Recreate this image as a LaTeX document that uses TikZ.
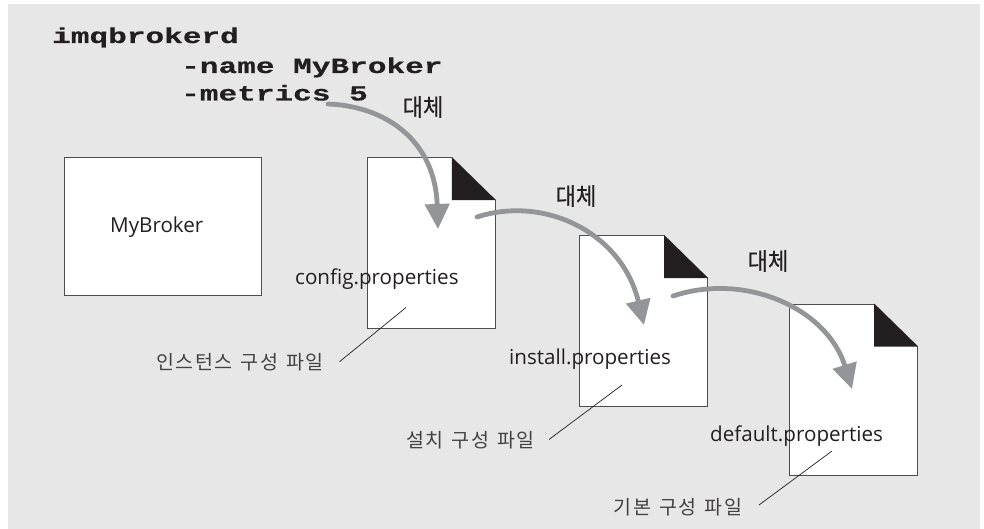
\documentclass[tikz,border=0pt]{standalone}
\usepackage{fontspec}
\usetikzlibrary{arrows.meta}
\setmainfont{Open Sans}
\newfontfamily\codefont[FakeStretch=1.44,FakeBold=0.5]{Liberation Mono Bold}
\newfontfamily\krfont[LetterSpace=8,WordSpace=1.35]{Noto Sans CJK KR}
\newfontfamily\krbold[FakeStretch=0.92,FakeBold=0.4]{Noto Sans CJK KR}
\definecolor{panel}{HTML}{E7E7E7}
\definecolor{arrowgray}{HTML}{939598}
\definecolor{ink}{HTML}{231F20}
\tikzset{
  x=1pt,y=-1pt,
  textbase/.style={anchor=base west,inner sep=0pt,text=ink},
  code/.style={textbase,font=\codefont\fontsize{21.6}{21.6}\selectfont},
  filename/.style={textbase,font=\fontsize{20.6}{20}\selectfont},
  brokerbox/.style={draw=ink!80,line width=0.8pt,fill=white,minimum width=197pt,minimum height=138pt,inner sep=0pt},
  docbox/.style={draw=ink!80,line width=0.9pt,fill=white,minimum width=128.5pt,minimum height=171pt,inner sep=0pt},
  replace/.style={anchor=center,inner sep=0pt,text=ink,font=\krbold\fontsize{24}{24}\selectfont},
  caption/.style={anchor=center,inner sep=0pt,text=ink!85,font=\krfont\fontsize{19.5}{20}\selectfont},
  flow/.style={draw=arrowgray,line width=4.8pt,line cap=round,-{Triangle[length=25pt,width=24pt]}},
  leader/.style={draw=ink,line width=0.7pt},
  foldcut/.style={fill=panel},
  foldblack/.style={fill=ink},
}
\newcommand{\docfold}[1]{%
  \fill[foldcut] ([xshift=-44pt]#1.north east) -- (#1.north east) -- ([yshift=-43pt]#1.north east) -- cycle;
  \fill[foldblack] ([xshift=-44pt]#1.north east) -- ([yshift=-43pt]#1.north east) -- ([xshift=-44pt,yshift=-43pt]#1.north east) -- cycle;
}
\begin{document}
\begin{tikzpicture}
\useasboundingbox (0,0) rectangle (984,529);
\fill[white] (0,0) rectangle (984,529);
\fill[panel] (8,4) rectangle (980,529);

\node[code] (cmd) at (52,43) {imqbrokerd};
\node[code] (nameopt) at (181,73) {-name MyBroker};
\node[code] (metricsopt) at (181,100.5) {-metrics 5};

\node[brokerbox] (broker) at (162.7,226) {};
\node[filename] (brokername) at (110,233) {MyBroker};

\node[docbox] (doc1) at (431.2,243) {};
\node[docbox] (doc2) at (643.5,321) {};
\node[docbox] (doc3) at (853.5,389.5) {};
\docfold{doc1}
\docfold{doc2}
\docfold{doc3}

\node[filename] (cfg) at (295,284.5) {config.properties};
\node[filename] (inst) at (509,364) {install.properties};
\node[filename] (deflt) at (710,441.5) {default.properties};

\node[replace] (r1) at (423,107) {대체};
\node[replace] (r2) at (576,196) {대체};
\node[replace] (r3) at (768,261) {대체};

\node[caption] (c1) at (240,362) {인스턴스 구성 파일};
\node[caption] (c2) at (470.5,440) {설치 구성 파일};
\node[caption] (c3) at (678,507) {기본 구성 파일};

\coordinate (l1a) at (339.5,361.7);
\coordinate (l1b) at (406,307.5);
\coordinate (l2a) at (549,439.5);
\coordinate (l2b) at (622,385);
\coordinate (l3a) at (759,505);
\coordinate (l3b) at (832,451);
\draw[leader] (l1a) -- (l1b);
\draw[leader] (l2a) -- (l2b);
\draw[leader] (l3a) -- (l3b);

\coordinate (f1s) at (328,104);
\coordinate (f1e) at (438,229);
\coordinate (f2s) at (477,217);
\coordinate (f2e) at (644,325);
\coordinate (f3s) at (673,296);
\coordinate (f3e) at (852,389);
\draw[flow] (f1s) .. controls (385,106) and (435,140) .. (f1e);
\draw[flow] (f2s) .. controls (545,195) and (622,233) .. (f2e);
\draw[flow] (f3s) .. controls (745,272) and (827,308) .. (f3e);
\end{tikzpicture}
\end{document}
